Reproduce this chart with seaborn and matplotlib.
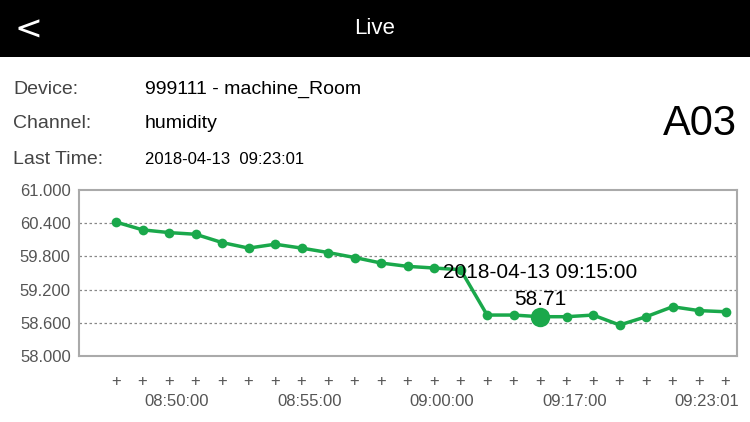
import matplotlib
matplotlib.use('Agg')
import matplotlib.pyplot as plt
import seaborn as sns
import pandas as pd

# ---- data ----
humidity = [60.42, 60.28, 60.23, 60.20, 60.05, 59.95, 60.02, 59.95, 59.87, 59.78,
            59.68, 59.62, 59.59, 59.56, 58.74, 58.74, 58.71, 58.71, 58.74, 58.56,
            58.71, 58.89, 58.82, 58.80]
time_labels = ['08:50:00', '08:55:00', '09:00:00', '09:17:00', '09:23:01']
time_label_pos = [2.3, 7.3, 12.3, 17.3, 22.3]
y_ticks = [58.0, 58.6, 59.2, 59.8, 60.4, 61.0]
highlight_idx = 16
highlight_label = '2018-04-13 09:15:00'
info_labels = ['Device:', 'Channel:', 'Last Time:']
info_values = ['999111 - machine_Room', 'humidity', '2018-04-13  09:23:01']

df = pd.DataFrame({'idx': range(len(humidity)), 'value': humidity})

sns.set_theme(style='white')
plt.rcParams['font.family'] = ['Liberation Sans', 'DejaVu Sans']

green = '#1aa84b'
W, H = 750, 422
fig = plt.figure(figsize=(7.5, 4.22), dpi=100)
fig.patch.set_facecolor('white')

# header bar
hdr = fig.add_axes([0, 1 - 57 / H, 1, 57 / H])
hdr.set_facecolor('black')
hdr.set_xticks([])
hdr.set_yticks([])
for s in hdr.spines.values():
    s.set_visible(False)
hdr.text(0.5, 0.5, 'Live', color='white', fontsize=16, ha='center', va='center',
         transform=hdr.transAxes)
hdr.text(28 / W, 0.48, '<', color='white', fontsize=24, ha='center', va='center',
         transform=hdr.transAxes, family=['DejaVu Sans'])

# info block
for i, (lab, val) in enumerate(zip(info_labels, info_values)):
    y = 1 - (89 + i * 35) / H
    fig.text(13 / W, y, lab, fontsize=14, color='#444444', va='center')
    fig.text(145 / W, y, val, fontsize=14 if i < 2 else 12, color='black', va='center')
fig.text(737 / W, 1 - 124 / H, 'A03', fontsize=30, color='black', ha='right', va='center')

# chart
ax = fig.add_axes([79 / W, (H - 356) / H, (737 - 79) / W, (356 - 190) / H])
sns.lineplot(data=df, x='idx', y='value', ax=ax, color=green, linewidth=2.5,
             marker='o', markersize=7, markeredgewidth=0)
ax.plot(highlight_idx, humidity[highlight_idx], 'o', color=green, markersize=14,
        markeredgewidth=0)
ax.text(highlight_idx, humidity[highlight_idx] + 0.14, str(humidity[highlight_idx]),
        ha='center', va='bottom', fontsize=15, color='black')
ax.text(highlight_idx, humidity[highlight_idx] + 0.62, highlight_label,
        ha='center', va='bottom', fontsize=15, color='black')

ax.set_xlim(-1.4, 23.43)
ax.set_ylim(58.0, 61.0)
ax.set_yticks(y_ticks)
ax.set_yticklabels([f'{v:.3f}' for v in y_ticks], color='#555555', fontsize=12)
for v in y_ticks[1:-1]:
    ax.axhline(v, color='#888888', linestyle=(0, (2, 2)), linewidth=0.9, zorder=0)

ax.set_xticks(list(range(len(humidity))))
ax.set_xticklabels(['+'] * len(humidity), color='#555555', fontsize=12)
ax.set_xticks(time_label_pos, minor=True)
ax.set_xticklabels(time_labels, minor=True, color='#555555', fontsize=12)
ax.tick_params(axis='x', which='major', length=0, pad=13)
ax.tick_params(axis='x', which='minor', length=0, pad=27)
ax.tick_params(axis='y', length=0, pad=6)
ax.set_xlabel('')
ax.set_ylabel('')
for s in ax.spines.values():
    s.set_color('#aaaaaa')
    s.set_linewidth(1.5)

fig.savefig('out.png', dpi=100)
